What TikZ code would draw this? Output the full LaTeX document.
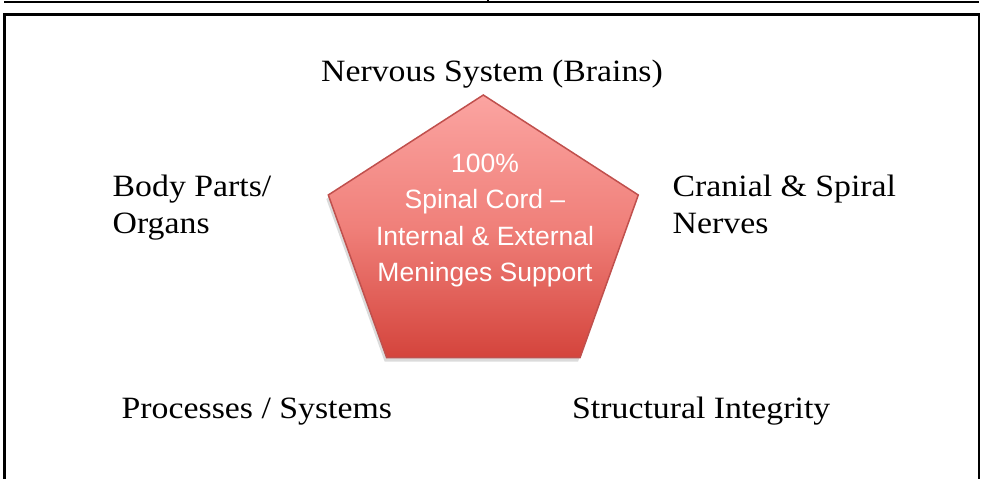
\documentclass[tikz,border=0pt]{standalone}
\usepackage{fontspec}
\setmainfont{Liberation Serif}[FakeStretch=1.09]
\newfontfamily\penfont{Liberation Sans}
\begin{document}
\begin{tikzpicture}[x=1pt,y=-1pt,
  label/.style={font=\fontsize{31}{37}\selectfont, inner sep=0pt, text=black},
  pentext/.style={font=\penfont\fontsize{26.5}{36.7}\selectfont, text=white, align=center, inner sep=0pt}]
\useasboundingbox (0,0) rectangle (983,479);
\clip (0,0) rectangle (983,479);
\definecolor{pentop}{RGB}{251,164,161}
\definecolor{penbot}{RGB}{212,68,60}
\definecolor{penedge}{RGB}{192,80,77}
% top table line
\draw[line width=2pt] (4,2) -- (979,2);
\draw[line width=1.5pt] (488,-1) -- (488,2);
% frame
\draw[line width=2.5pt] (4.7,490) -- (4.7,14.5) -- (979,14.5) -- (979,490);
% pentagon coordinates
\coordinate (pt) at (483.3,95);
\coordinate (pr) at (638.3,195);
\coordinate (pbr) at (580,357.7);
\coordinate (pbl) at (386.7,357.7);
\coordinate (pl) at (328.3,195);
% shadow
\fill[black!14] ([shift={(-2,4)}]pt) -- ([shift={(-2,4)}]pr) -- ([shift={(-2,4)}]pbr) -- ([shift={(-2,4)}]pbl) -- ([shift={(-2,4)}]pl) -- cycle;
\shade[top color=pentop, bottom color=penbot, middle color={rgb,255:red,240;green,128;blue,122}] (pt) -- (pr) -- (pbr) -- (pbl) -- (pl) -- cycle;
\draw[penedge, line width=1.5pt, line join=miter] (pt) -- (pr) -- (pbr) -- (pbl) -- (pl) -- cycle;
% pentagon text
\node[pentext, anchor=base] (c1) at (485,172) {100\%};
\node[pentext, anchor=base] (c2) at (485,208.5) {Spinal Cord –};
\node[pentext, anchor=base] (c3) at (485,245) {Internal \& External};
\node[pentext, anchor=base] (c4) at (485,281.7) {Meninges Support};
% labels
\node[label, anchor=base] (ns) at (492,81) {Nervous System (Brains)};
\node[label, anchor=base west] (bp1) at (112.5,196.7) {Body Parts/};
\node[label, anchor=base west] (bp2) at (112.5,233.5) {Organs};
\node[label, anchor=base west] (cn1) at (672.5,196.7) {Cranial \& Spiral};
\node[label, anchor=base west] (cn2) at (672.5,233.5) {Nerves};
\node[label, anchor=base west] (ps) at (121.5,418.3) {Processes / Systems};
\node[label, anchor=base west] (si) at (572,418.3) {Structural Integrity};
\end{tikzpicture}
\end{document}
